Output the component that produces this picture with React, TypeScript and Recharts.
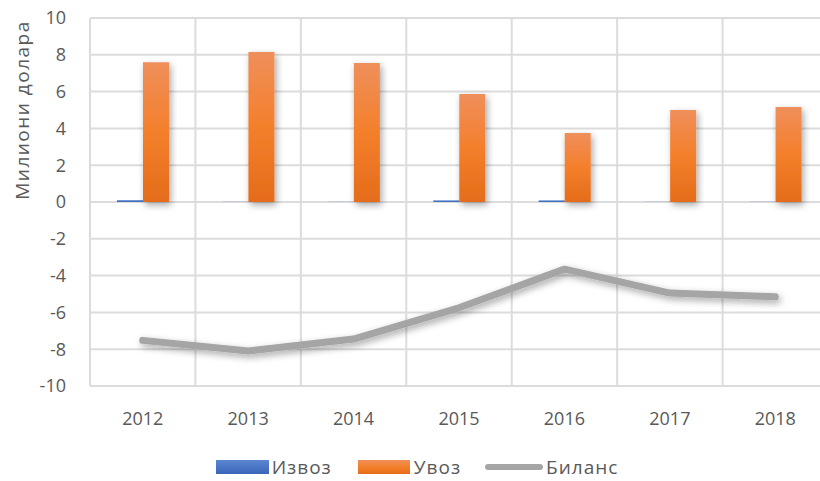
import React from "react";
import {
  ComposedChart,
  Bar,
  Line,
  XAxis,
  YAxis,
  CartesianGrid,
  Legend,
} from "recharts";

// values in millions of dollars
const years = ["2012", "2013", "2014", "2015", "2016", "2017", "2018"];
const exports = [0.1, 0.01, 0.01, 0.09, 0.09, 0.01, 0.01];
const imports = [7.6, 8.15, 7.55, 5.87, 3.75, 5.0, 5.16];
const balance = [-7.52, -8.1, -7.45, -5.75, -3.65, -4.95, -5.15];
const yTicks = [-10, -8, -6, -4, -2, 0, 2, 4, 6, 8, 10];

const data = years.map((year, i) => ({
  year,
  izvoz: exports[i],
  uvoz: imports[i],
  bilans: balance[i],
}));

const FONT = "'Open Sans', sans-serif";
const TEXT = "#595959";

const LegendContent = () => (
  <div
    style={{
      display: "flex",
      justifyContent: "center",
      alignItems: "center",
      fontFamily: FONT,
      fontSize: 19,
      letterSpacing: 1,
      color: TEXT,
      height: 28,
      paddingLeft: 6,
    }}
  >
    <span style={{ width: 53, height: 14, background: "linear-gradient(#5b86d2, #3a66b8)" }} />
    <span style={{ marginLeft: 3, marginRight: 26 }}>Извоз</span>
    <span style={{ width: 52, height: 14, background: "linear-gradient(#ef8f5b, #f47f2b, #e46c1a)" }} />
    <span style={{ marginLeft: 4, marginRight: 24 }}>Увоз</span>
    <span style={{ width: 58, height: 6, borderRadius: 3, background: "#a5a5a5" }} />
    <span style={{ marginLeft: 3 }}>Биланс</span>
  </div>
);

const YLabel = () => (
  <text
    x={22}
    y={110}
    transform="rotate(-90 22 110)"
    textAnchor="middle"
    dominantBaseline="central"
    fill={TEXT}
    fontFamily={FONT}
    fontSize={19}
    letterSpacing={1.5}
  >
    Милиони долара
  </text>
);

export default function App() {
  return (
    <div
      style={{
        position: "absolute",
        left: 0,
        top: 0,
        width: 820,
        height: 481,
        overflow: "hidden",
        background: "#fff",
      }}
    >
      <ComposedChart
        width={840}
        height={481}
        data={data}
        margin={{ top: 18, right: 12, bottom: 0, left: 0 }}
        barGap={0}
      >
        <defs>
          <linearGradient id="uvozFill" x1="0" y1="0" x2="0" y2="1">
            <stop offset="0%" stopColor="#ef8f5b" />
            <stop offset="50%" stopColor="#f47f2b" />
            <stop offset="100%" stopColor="#e46c1a" />
          </linearGradient>
          <linearGradient id="izvozFill" x1="0" y1="0" x2="0" y2="1">
            <stop offset="0%" stopColor="#5b86d2" />
            <stop offset="100%" stopColor="#3a66b8" />
          </linearGradient>
          <filter id="shadow" x="-30%" y="-30%" width="160%" height="160%">
            <feDropShadow dx="2" dy="3" stdDeviation="3.5" floodColor="#000" floodOpacity="0.35" />
          </filter>
        </defs>
        <CartesianGrid
          stroke="#dcdcdc"
          strokeWidth={2}
          verticalCoordinatesGenerator={({ offset }: any) =>
            years.map((_, i) => offset.left + (i * offset.width) / years.length).concat(offset.left + offset.width)
          }
        />
        <XAxis
          dataKey="year"
          axisLine={false}
          tickLine={false}
          tickSize={0}
          tickMargin={26}
          height={67}
          tick={{ fill: TEXT, fontSize: 18, fontFamily: FONT }}
        />
        <YAxis
          domain={[-10, 10]}
          ticks={yTicks}
          width={90}
          axisLine={false}
          tickLine={false}
          tickSize={0}
          tickMargin={24}
          interval={0}
          tick={{ fill: TEXT, fontSize: 18, fontFamily: FONT }}
          label={<YLabel />}
        />
        <Legend verticalAlign="bottom" height={28} content={<LegendContent />} />
        <Bar dataKey="izvoz" name="Извоз" barSize={26} fill="url(#izvozFill)" isAnimationActive={false} />
        <Bar
          dataKey="uvoz"
          name="Увоз"
          barSize={26}
          fill="url(#uvozFill)"
          filter="url(#shadow)"
          isAnimationActive={false}
        />
        <Line
          dataKey="bilans"
          name="Биланс"
          type="linear"
          stroke="#a5a5a5"
          strokeWidth={7}
          strokeLinecap="round"
          strokeLinejoin="round"
          dot={false}
          activeDot={false}
          filter="url(#shadow)"
          isAnimationActive={false}
        />
      </ComposedChart>
    </div>
  );
}
